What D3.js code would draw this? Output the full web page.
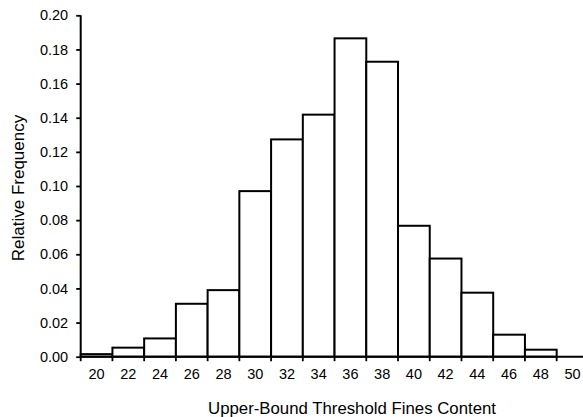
<!DOCTYPE html>
<html>
<head>
<meta charset="utf-8">
<script src="https://cdn.jsdelivr.net/npm/d3@7"></script>
<style>
  html, body { margin: 0; padding: 0; background: #fff; }
  svg { display: block; }
  text { font-family: "Liberation Sans", Arial, sans-serif; fill: #000; }
</style>
</head>
<body>
<svg id="chart" width="583" height="417"></svg>
<script>
const categories = ["20","22","24","26","28","30","32","34","36","38","40","42","44","46","48","50"];
const frequencies = [0.0015,0.0053,0.0107,0.031,0.039,0.097,0.1273,0.1418,0.1865,0.1728,0.0767,0.0575,0.0375,0.0129,0.0041,0];
const yTicks = [0,0.02,0.04,0.06,0.08,0.10,0.12,0.14,0.16,0.18,0.20];
const xTitle = "Upper-Bound Threshold Fines Content";
const yTitle = "Relative Frequency";

const svg = d3.select("#chart");
const mLeft = 80.7, mRight = 588.4, mTop = 15.3, mBottom = 356.7;

const x = d3.scaleBand().domain(categories).range([mLeft, mRight]).paddingInner(0).paddingOuter(0);
const y = d3.scaleLinear().domain([0, 0.20]).range([mBottom, mTop]);

// bars
svg.append("g").selectAll("rect")
  .data(categories.map((c, i) => ({c, v: frequencies[i]})).filter(d => d.v > 0))
  .join("rect")
  .attr("x", d => x(d.c))
  .attr("y", d => y(d.v))
  .attr("width", x.bandwidth())
  .attr("height", d => y(0) - y(d.v))
  .attr("fill", "#fff")
  .attr("stroke", "#000")
  .attr("stroke-width", 2);

// y axis
const yAxis = svg.append("g")
  .attr("transform", `translate(${mLeft},0)`)
  .call(d3.axisLeft(y).tickValues(yTicks).tickFormat(d3.format(".2f")).tickSize(4.5).tickPadding(8));
yAxis.select(".domain").attr("stroke", "#000").attr("stroke-width", 2).attr("d", `M0,${mTop}V${mBottom}`);
yAxis.selectAll(".tick line").attr("stroke", "#000").attr("stroke-width", 1.8);
yAxis.selectAll(".tick text").style("font-size", "14.5px").attr("font-family", null);

// x axis labels
const xAxis = svg.append("g")
  .attr("transform", `translate(0,${mBottom})`)
  .call(d3.axisBottom(x).tickSize(0).tickPadding(12));
xAxis.select(".domain").attr("stroke", "#000").attr("stroke-width", 2).attr("d", `M${mLeft},0H${mRight}`);
xAxis.selectAll(".tick text").style("font-size", "14.5px").attr("font-family", null);

// boundary ticks
const bounds = categories.map(c => x(c)).concat([x(categories[categories.length - 1]) + x.bandwidth()]);
svg.append("g").selectAll("line")
  .data(bounds)
  .join("line")
  .attr("x1", d => d).attr("x2", d => d)
  .attr("y1", mBottom).attr("y2", mBottom + 4.5)
  .attr("stroke", "#000").attr("stroke-width", 1.8);

// titles
svg.append("text")
  .attr("x", 352).attr("y", 414.3)
  .attr("text-anchor", "middle")
  .style("font-size", "16.8px")
  .text(xTitle);

svg.append("text")
  .attr("transform", "translate(23.5,188) rotate(-90)")
  .attr("text-anchor", "middle")
  .style("font-size", "17px")
  .text(yTitle);
</script>
</body>
</html>
